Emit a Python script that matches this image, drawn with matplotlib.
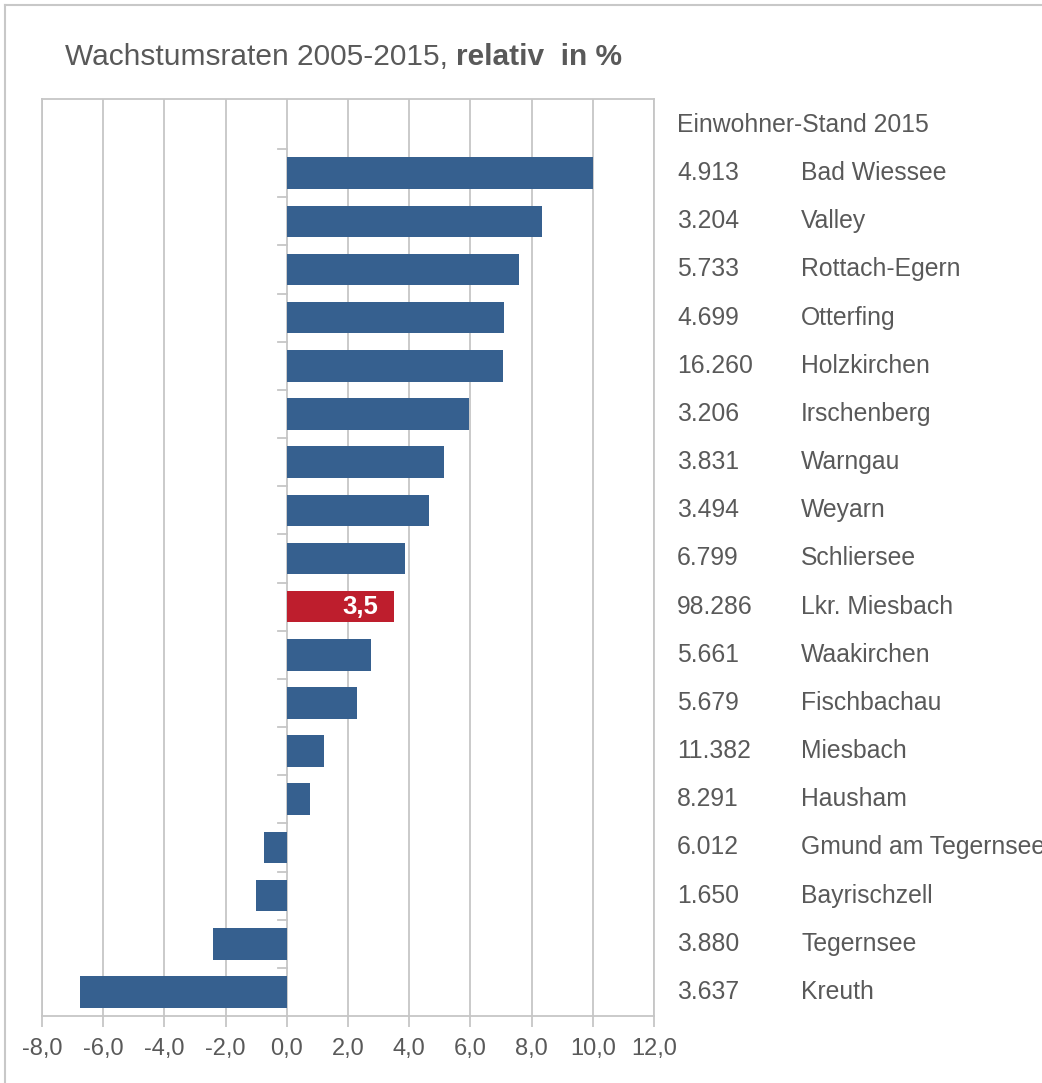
import matplotlib
matplotlib.use("Agg")
import matplotlib.pyplot as plt
from matplotlib import font_manager, transforms
from matplotlib.lines import Line2D

# ---- data ----
gemeinden = ["Bad Wiessee", "Valley", "Rottach-Egern", "Otterfing", "Holzkirchen",
             "Irschenberg", "Warngau", "Weyarn", "Schliersee", "Lkr. Miesbach",
             "Waakirchen", "Fischbachau", "Miesbach", "Hausham", "Gmund am Tegernsee",
             "Bayrischzell", "Tegernsee", "Kreuth"]
einwohner = ["4.913", "3.204", "5.733", "4.699", "16.260", "3.206", "3.831", "3.494",
             "6.799", "98.286", "5.661", "5.679", "11.382", "8.291", "6.012", "1.650",
             "3.880", "3.637"]
wachstum = [10.0, 8.35, 7.6, 7.1, 7.05, 5.95, 5.15, 4.65, 3.85, 3.5,
            2.75, 2.3, 1.2, 0.75, -0.75, -1.0, -2.4, -6.75]
highlight = "Lkr. Miesbach"
x_ticks = [-8, -6, -4, -2, 0, 2, 4, 6, 8, 10, 12]
header = "Einwohner-Stand 2015"
title_normal = "Wachstumsraten 2005-2015, "
title_bold = "relativ  in %"

BLUE = "#36608f"
RED = "#be1e2d"
GREY_TXT = "#595959"
GRID = "#c6c6c6"

names = {f.name for f in font_manager.fontManager.ttflist}
FONT = "Liberation Sans" if "Liberation Sans" in names else "DejaVu Sans"
plt.rcParams["font.family"] = [FONT, "DejaVu Sans"]

W, H = 1042, 1083
fig = plt.figure(figsize=(W / 100, H / 100), dpi=100)
fig.patch.set_facecolor("white")

# axes placement (pixels)
left, right, top, bottom = 42, 654, 99, 1016
ax = fig.add_axes([left / W, 1 - bottom / H, (right - left) / W, (bottom - top) / H])

n = len(gemeinden)
ypos = list(range(n))
colors = [RED if g == highlight else BLUE for g in gemeinden]
ax.barh(ypos, wachstum, height=0.655, color=colors, zorder=3)

ax.set_xlim(-8, 12)
ax.set_ylim(n - 0.5, -1.54)
ax.set_xticks(x_ticks)
ax.set_xticklabels([f"{t:.1f}".replace(".", ",") for t in x_ticks])
ax.grid(axis="x", color=GRID, linewidth=1.3, zorder=0)
ax.set_yticks([])
for s in ax.spines.values():
    s.set_color(GRID)
    s.set_linewidth(1.3)
ax.tick_params(axis="x", length=8, width=1.3, color=GRID, labelcolor=GREY_TXT,
               pad=8, labelsize=17)

# category tick marks at the zero line
for b in [i - 0.5 for i in range(n + 1)]:
    if b >= n - 0.5:
        continue
    ax.plot([-0.28, 0], [b, b], color=GRID, linewidth=1.3, zorder=2, clip_on=False)

# value label for highlight
hi = gemeinden.index(highlight)
ax.text(wachstum[hi] - 0.5, hi, f"{wachstum[hi]:.1f}".replace(".", ","),
        ha="right", va="center", color="white", fontsize=18.5, fontweight="bold", zorder=4)

# right-side table
tr = transforms.blended_transform_factory(fig.transFigure, ax.transData)
ax.text(677 / W, -1, header, transform=tr, ha="left", va="center",
        fontsize=17.8, color=GREY_TXT, clip_on=False)
for i, (e, g) in enumerate(zip(einwohner, gemeinden)):
    ax.text(677 / W, i, e, transform=tr, ha="left", va="center",
            fontsize=17.8, color=GREY_TXT, clip_on=False)
    ax.text(801 / W, i, g, transform=tr, ha="left", va="center",
            fontsize=17.8, color=GREY_TXT, clip_on=False)

# title (normal + bold parts)
t1 = fig.text(65 / W, 1 - 57 / H, title_normal, ha="left", va="center",
              fontsize=21.5, color=GREY_TXT)
fig.canvas.draw()
bb = t1.get_window_extent(fig.canvas.get_renderer())
fig.text(bb.x1 / W, 1 - 57 / H, title_bold, ha="left", va="center",
         fontsize=21.5, color=GREY_TXT, fontweight="bold")

# outer frame lines (left and top)
fig.add_artist(Line2D([5 / W, 5 / W], [0, 1 - 5 / H], transform=fig.transFigure,
                      color="#c8c8c8", linewidth=1.5))
fig.add_artist(Line2D([5 / W, 1], [1 - 5 / H, 1 - 5 / H], transform=fig.transFigure,
                      color="#c8c8c8", linewidth=1.5))

fig.savefig("out.png", dpi=100, facecolor="white")
